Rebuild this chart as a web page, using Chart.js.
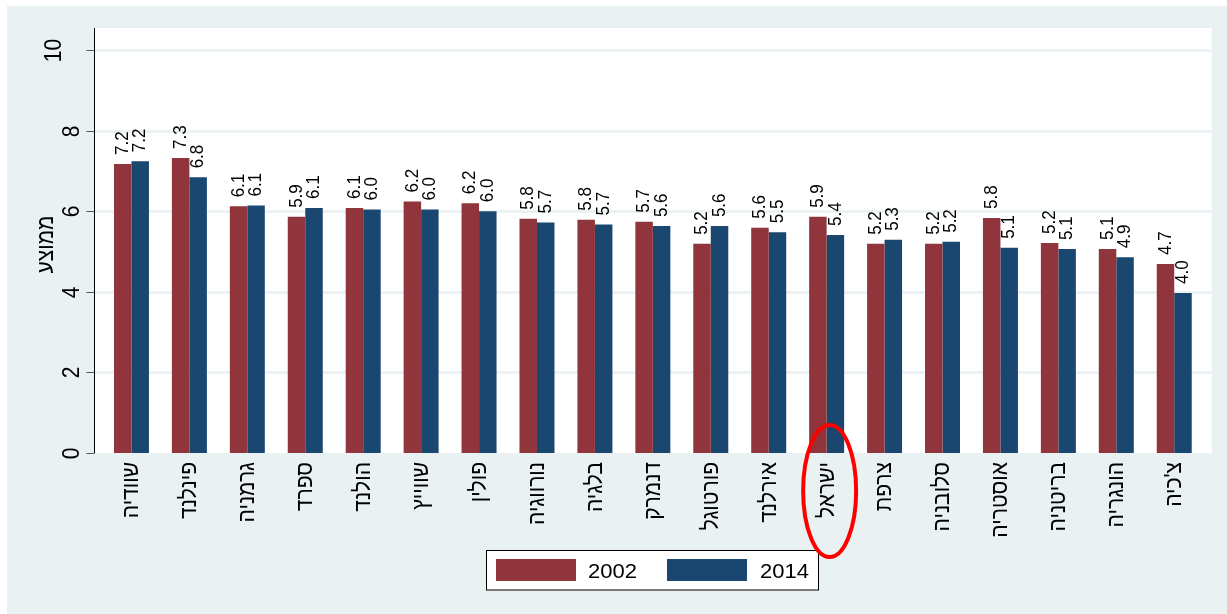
<!DOCTYPE html>
<html lang="he">
<head>
<meta charset="utf-8">
<title>ממוצע 2002 / 2014</title>
<script src="https://cdn.jsdelivr.net/npm/chart.js@4/dist/chart.umd.min.js"></script>
<style>
  html,body{margin:0;padding:0;background:#fff;}
  canvas{display:block;}
</style>
</head>
<body>
<canvas id="chart" width="1227" height="614"></canvas>
<script>
// data
const categories = ["שוודיה","פינלנד","גרמניה","ספרד","הולנד","שווייץ","פולין","נורווגיה","בלגיה","דנמרק",
  "פורטוגל","אירלנד","ישראל","צרפת","סלובניה","אוסטריה","בריטניה","הונגריה","צ'כיה"];
const values2002 = [7.17,7.32,6.12,5.86,6.08,6.24,6.20,5.81,5.79,5.74,5.19,5.59,5.86,5.19,5.19,5.83,5.21,5.06,4.69];
const values2014 = [7.24,6.84,6.14,6.08,6.04,6.04,6.00,5.72,5.67,5.63,5.63,5.48,5.41,5.29,5.24,5.09,5.06,4.86,3.97];
const seriesNames = ["2002","2014"];
const yTicks = [0,2,4,6,8,10];
const yTitle = "ממוצע";
const highlight = "ישראל";

const RED = "#90353b", BLUE = "#1a476f";
const BG = "#e9f1f3", GRID = "#e9f1f3";
const FONT = '"Liberation Sans", Arial, "DejaVu Sans", sans-serif';
const STRETCH = 1.1; // reference text is a little wide

// small helper: rotated (reading upward) text, horizontally stretched
function upText(ctx, txt, x, y, size, align, baseline){
  ctx.save();
  ctx.translate(x, y);
  ctx.scale(STRETCH, 1);
  ctx.rotate(-Math.PI/2);
  ctx.font = size + "px " + FONT;
  ctx.textAlign = align; ctx.textBaseline = baseline;
  ctx.fillStyle = "#000";
  ctx.fillText(txt, 0, 0);
  ctx.restore();
}

const backdrop = {
  id: "backdrop",
  beforeDraw(chart){
    const {ctx, chartArea: ca, scales: {x, y}} = chart;
    const W = chart.width, H = chart.height;
    const left = ca.left - 7.5, right = ca.right + 8.5, top = 28;
    ctx.save();
    ctx.fillStyle = "#fff"; ctx.fillRect(0, 0, W, H);
    ctx.fillStyle = BG; ctx.fillRect(7, 6, W - 7, H - 6);
    ctx.fillStyle = "#fff"; ctx.fillRect(left, top, right - left, ca.bottom - top);
    // grid
    ctx.strokeStyle = GRID; ctx.lineWidth = 2.5;
    for(const t of yTicks){
      if(t === 0) continue;
      const py = Math.round(y.getPixelForValue(t)) + 0.5;
      ctx.beginPath(); ctx.moveTo(left, py); ctx.lineTo(right, py); ctx.stroke();
    }
    // axis line + ticks
    const ax = Math.round(left) - 0.5;
    ctx.strokeStyle = "#000"; ctx.lineWidth = 1;
    ctx.beginPath(); ctx.moveTo(ax, top); ctx.lineTo(ax, ca.bottom); ctx.stroke();
    ctx.strokeStyle = "#555";
    for(const t of yTicks){
      const py = Math.round(y.getPixelForValue(t)) + 0.5;
      ctx.beginPath(); ctx.moveTo(ax - 8, py); ctx.lineTo(ax, py); ctx.stroke();
      const s = String(t);
      upText(ctx, s, ax - 16 - (s.length - 1) * 18, py, 21, "center", "alphabetic");
    }
    upText(ctx, yTitle, 53, (28 + ca.bottom) / 2 + 4, 21, "center", "alphabetic");
    // category labels
    x.ticks.forEach((tk, i) => {
      upText(ctx, x.getLabelForValue(tk.value), x.getPixelForTick(i) + 0.5, ca.bottom + 9, 21, "right", "middle");
    });
    ctx.restore();
  }
};

const decorations = {
  id: "decorations",
  afterDatasetsDraw(chart){
    const {ctx} = chart;
    chart.data.datasets.forEach((ds, i) => {
      const meta = chart.getDatasetMeta(i);
      meta.data.forEach((bar, j) => {
        upText(ctx, ds.data[j].toFixed(1), bar.x, bar.y - 9, 17, "left", "middle");
      });
    });
  },
  afterDraw(chart){
    const {ctx, chartArea: ca, scales: {x}} = chart;
    ctx.save();
    // legend
    const bx = 486.5, by = 550.5, bw = 332, bh = 39.5;
    ctx.fillStyle = "#fff"; ctx.fillRect(bx, by, bw, bh);
    ctx.strokeStyle = "#000"; ctx.lineWidth = 1; ctx.strokeRect(bx, by, bw, bh);
    const items = [[496, 588], [667, 760]];
    chart.data.datasets.forEach((ds, i) => {
      const [sx, tx] = items[i];
      ctx.fillStyle = ds.backgroundColor;
      ctx.fillRect(sx, 559, 80, 22);
      ctx.save();
      ctx.translate(tx, 572); ctx.scale(STRETCH, 1);
      ctx.font = "20px " + FONT; ctx.fillStyle = "#000";
      ctx.textAlign = "left"; ctx.textBaseline = "middle";
      ctx.fillText(ds.label, 0, 0);
      ctx.restore();
    });
    // red ring around Israel
    const cx = x.getPixelForValue(categories.indexOf(highlight)) + 3;
    ctx.strokeStyle = "#ff0000"; ctx.lineWidth = 4;
    ctx.beginPath(); ctx.ellipse(cx, ca.bottom + 38, 26.5, 66, 0, 0, Math.PI * 2); ctx.stroke();
    ctx.restore();
  }
};

new Chart(document.getElementById("chart").getContext("2d"), {
  type: "bar",
  data: {
    labels: categories,
    datasets: [
      {label: seriesNames[0], data: values2002, backgroundColor: RED, barPercentage: 1, categoryPercentage: 0.604},
      {label: seriesNames[1], data: values2014, backgroundColor: BLUE, barPercentage: 1, categoryPercentage: 0.604}
    ]
  },
  options: {
    responsive: false, animation: false, devicePixelRatio: 1,
    layout: {padding: {left: 102.5, right: 23.8, top: 50, bottom: 0}},
    plugins: {legend: {display: false}, tooltip: {enabled: false}},
    scales: {
      x: {
        grid: {display: false, drawTicks: false}, border: {display: false},
        ticks: {display: false, autoSkip: false},
        afterFit: s => { s.height = 161; }
      },
      y: {display: false, min: 0, max: 10}
    }
  },
  plugins: [backdrop, decorations]
});
</script>
</body>
</html>
